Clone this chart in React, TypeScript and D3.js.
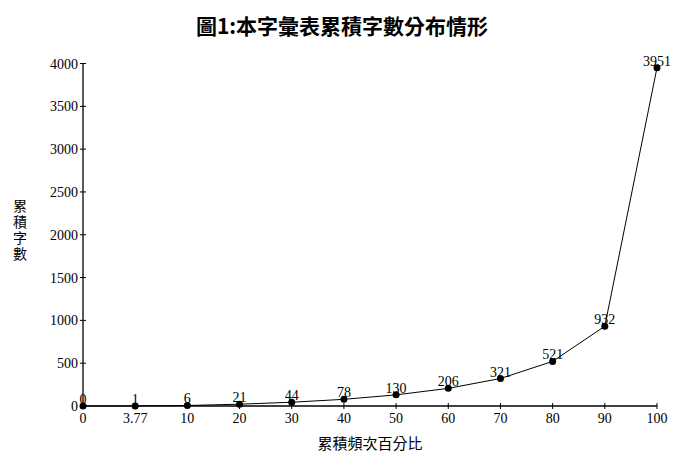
import React from "react";
import * as d3 from "d3";

const categories = ["0", "3.77", "10", "20", "30", "40", "50", "60", "70", "80", "90", "100"];
const values = [0, 1, 6, 21, 44, 78, 130, 206, 321, 521, 932, 3951];
const yTicks = [0, 500, 1000, 1500, 2000, 2500, 3000, 3500, 4000];
const title = "圖1:本字彙表累積字數分布情形";
const xTitle = "累積頻次百分比";
const yTitle = "累積字數";

export default function App() {
  const W = 691, H = 468;
  const left = 83, right = 657, top = 63.5, bottom = 406;
  const x = d3.scalePoint<string>().domain(categories).range([left, right]);
  const y = d3.scaleLinear().domain([0, 4000]).range([bottom, top]);
  const line = d3.line<number>().x((_, i) => x(categories[i])!).y((d) => y(d));
  const num = "'Liberation Serif', 'DejaVu Serif', serif";
  const cjk = "'Noto Sans CJK TC', sans-serif";
  return (
    <svg width={W} height={H} style={{ position: "absolute", left: 0, top: 0, background: "#fff" }}>
      <rect width={W} height={H} fill="#fff" />
      <text x={342} y={34} textAnchor="middle" fontFamily={cjk} fontWeight="bold" fontSize={21}>{title}</text>
      {/* y axis */}
      <line x1={left} x2={left} y1={top} y2={bottom} stroke="#000" strokeWidth={1.3} />
      {yTicks.map((t) => (
        <g key={t}>
          <line x1={left - 3} x2={left + 3} y1={y(t)} y2={y(t)} stroke="#000" />
          <text x={left - 5} y={y(t) + 5} textAnchor="end" fontFamily={num} fontSize={14}>{t}</text>
        </g>
      ))}
      {/* x axis */}
      <line x1={left} x2={right} y1={bottom} y2={bottom} stroke="#000" strokeWidth={1.3} />
      {categories.map((c) => (
        <g key={c}>
          <line x1={x(c)!} x2={x(c)!} y1={bottom - 3} y2={bottom + 3} stroke="#000" />
          <text x={x(c)!} y={bottom + 17} textAnchor="middle" fontFamily={num} fontSize={14}>{c}</text>
        </g>
      ))}
      <path d={line(values)!} fill="none" stroke="#000" strokeWidth={1} />
      {values.map((v, i) => (
        <g key={i}>
          <circle cx={x(categories[i])!} cy={y(v)} r={3.5} fill="#000" />
          <text x={x(categories[i])!} y={y(v) - 2} textAnchor="middle" fontFamily={num} fontSize={14}>{v}</text>
        </g>
      ))}
      <text x={370} y={449} textAnchor="middle" fontFamily={cjk} fontSize={15}>{xTitle}</text>
      <text x={20} y={199} style={{ writingMode: "vertical-rl" }} letterSpacing={2} fontFamily={cjk} fontSize={14}>{yTitle}</text>
    </svg>
  );
}
